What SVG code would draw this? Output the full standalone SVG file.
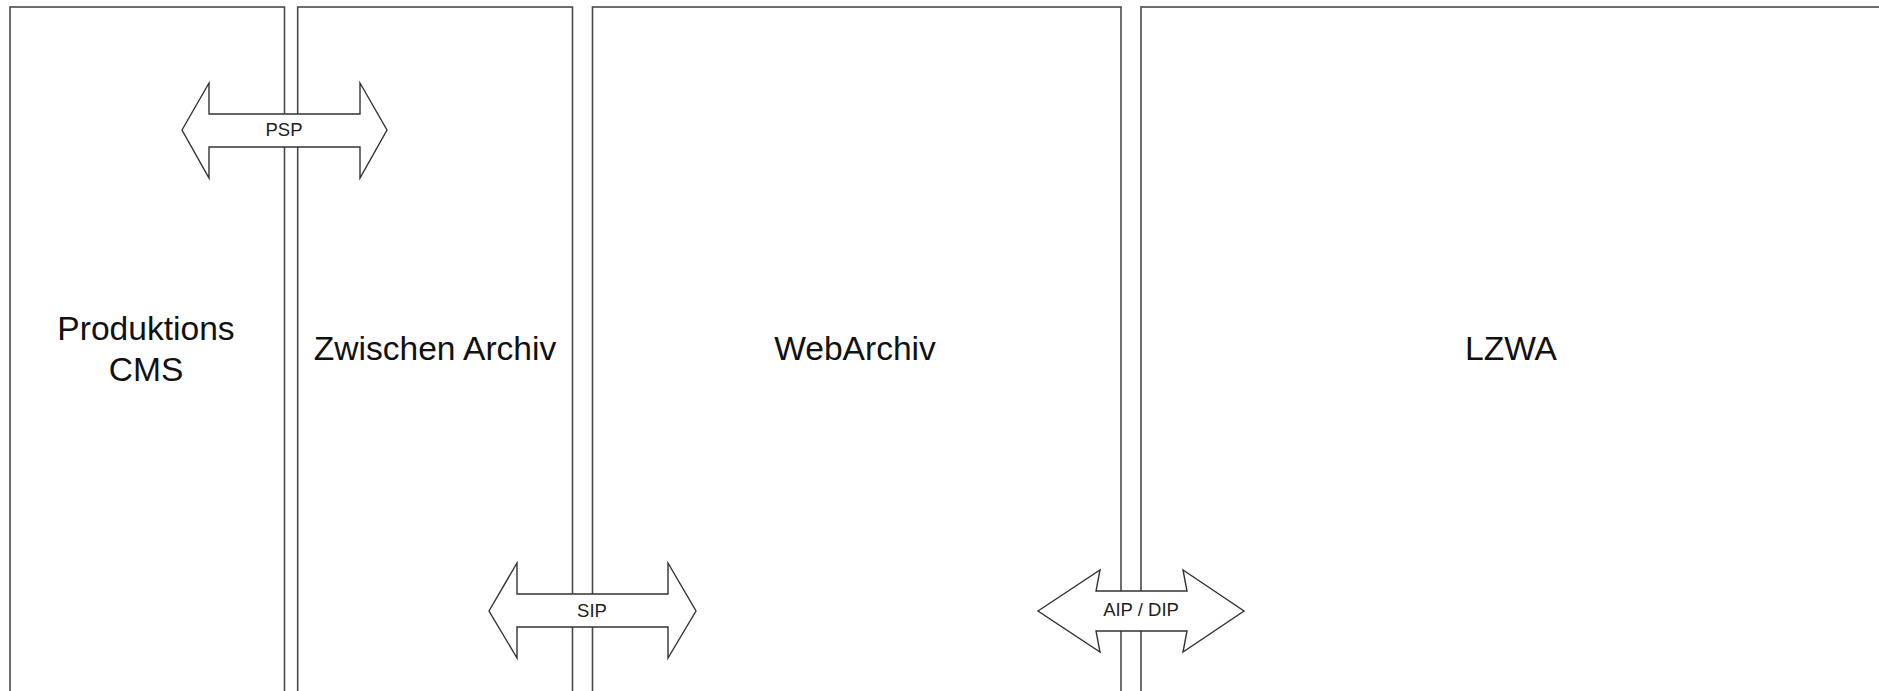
<svg xmlns="http://www.w3.org/2000/svg" width="1879" height="691" viewBox="0 0 1879 691">
  <style>
    .lane { fill: #ffffff; stroke: #4a4a4a; stroke-width: 1.6; }
    .flow { fill: #ffffff; stroke: #333333; stroke-width: 1.4; stroke-linejoin: miter; }
    .title { font-family: "Liberation Sans", Arial, sans-serif; font-size: 33.6px; fill: #111111; text-anchor: middle; }
    .label { font-family: "Liberation Sans", Arial, sans-serif; font-size: 18.5px; fill: #222222; text-anchor: middle; }
  </style>
  <rect width="1879" height="691" fill="#ffffff"/>

  <!-- system lanes -->
  <g id="produktions-cms">
    <rect class="lane" x="10" y="7" width="274.5" height="700"/>
    <text class="title" x="146" y="340">Produktions</text>
    <text class="title" x="146" y="381">CMS</text>
  </g>
  <g id="zwischen-archiv">
    <rect class="lane" x="297.7" y="7" width="274.8" height="700"/>
    <text class="title" x="435" y="360">Zwischen Archiv</text>
  </g>
  <g id="webarchiv">
    <rect class="lane" x="592.5" y="7" width="528.5" height="700"/>
    <text class="title" x="855" y="360">WebArchiv</text>
  </g>
  <g id="lzwa">
    <rect class="lane" x="1141" y="7" width="745" height="700"/>
    <text class="title" x="1511" y="360">LZWA</text>
  </g>

  <!-- package exchanges between lanes -->
  <g id="connectors">
    <g id="psp">
      <polygon class="flow" points="182,130 209,83 209,114 360,114 360,83 387,130 360,178 360,147 209,147 209,178"/>
      <text class="label" x="284" y="136">PSP</text>
    </g>
    <g id="sip">
      <polygon class="flow" points="489,611 517,563 517,594 668,594 668,563 696,611 668,658 668,627 517,627 517,658"/>
      <text class="label" x="592" y="617">SIP</text>
    </g>
    <g id="aip-dip">
      <polygon class="flow" points="1038,611 1100,570 1096,591 1187,591 1183,570 1244,611 1183,652 1187,631 1096,631 1100,652"/>
      <text class="label" x="1141" y="616">AIP / DIP</text>
    </g>
  </g>
</svg>
